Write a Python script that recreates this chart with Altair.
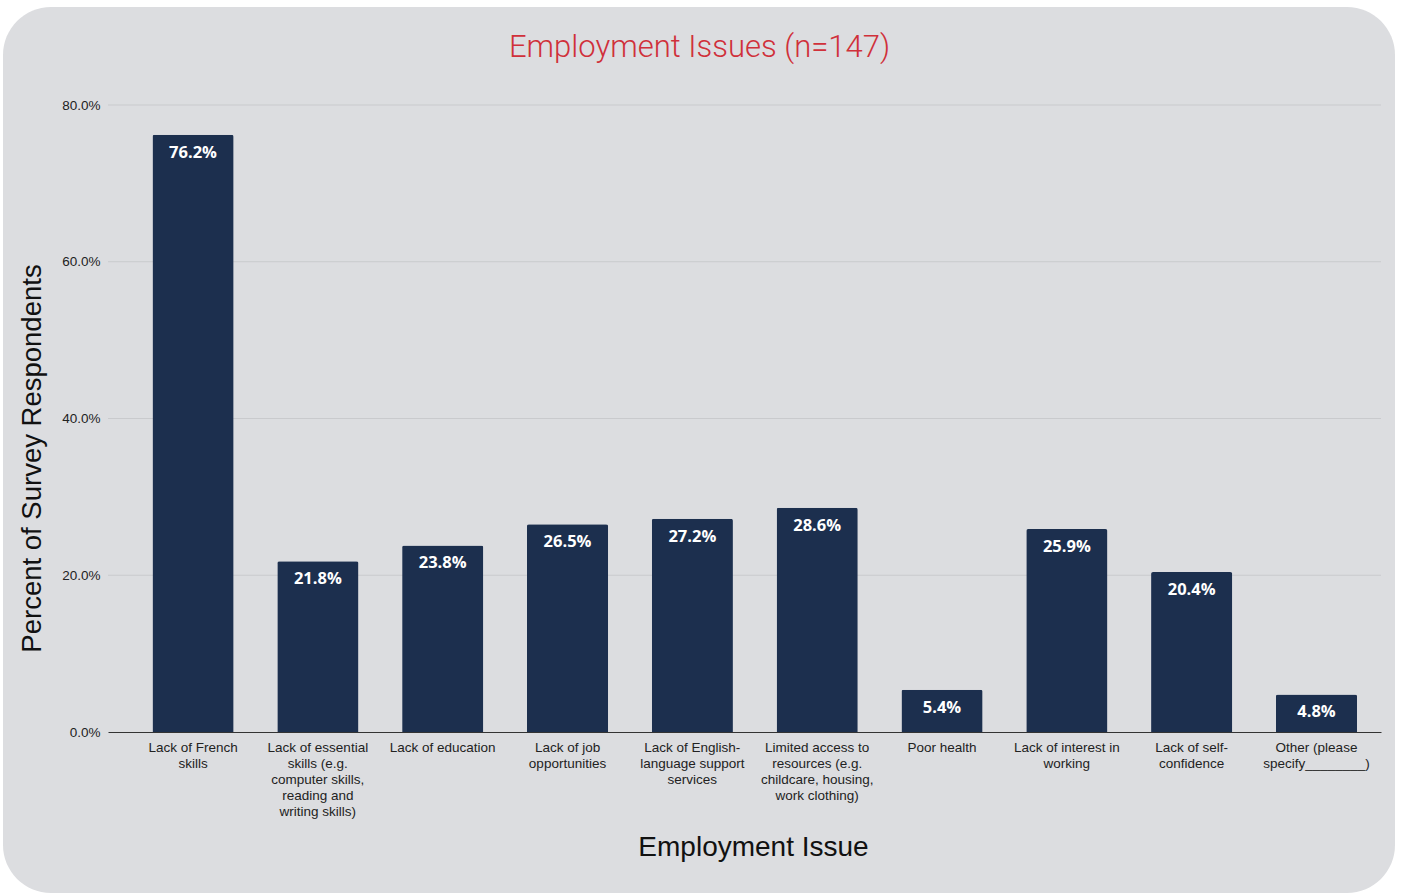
import altair as alt
import pandas as pd

categories = [
    "Lack of French\nskills",
    "Lack of essential\nskills (e.g.\ncomputer skills,\nreading and\nwriting skills)",
    "Lack of education",
    "Lack of job\nopportunities",
    "Lack of English-\nlanguage support\nservices",
    "Limited access to\nresources (e.g.\nchildcare, housing,\nwork clothing)",
    "Poor health",
    "Lack of interest in\nworking",
    "Lack of self-\nconfidence",
    "Other (please\nspecify________)",
]
values = [0.762, 0.218, 0.238, 0.265, 0.272, 0.286, 0.054, 0.259, 0.204, 0.048]
y_ticks = [0.0, 0.2, 0.4, 0.6, 0.8]
grid_ticks = [0.2, 0.4, 0.6, 0.8]

df = pd.DataFrame({"issue": categories, "pct": values})
grid_df = pd.DataFrame({"pct": grid_ticks})

W, H = 1273, 627
PL, PT, PR, PB = 108, 105, 21, 162

bg = alt.Chart(pd.DataFrame({"a": [0]})).mark_rect(
    color="#dcdde0", cornerRadius=48
).encode(
    x=alt.value(3 - PL), x2=alt.value(1395 - PL),
    y=alt.value(7 - PT), y2=alt.value(893 - PT),
)

yscale = alt.Scale(domain=[0, 0.8], nice=False)
yaxis = alt.Axis(
    title="Percent of Survey Respondents", format=".1%",
    values=y_ticks, grid=False,
    labelFont="Liberation Sans", labelFontSize=13.5, labelColor="#222222",
    labelPadding=8, ticks=False, domain=False,
    titleFont="Liberation Sans", titleFontSize=27.5, titleFontWeight="normal",
    titleColor="#111111", titleAngle=-90, titleX=-76, titleY=353,
    titleBaseline="middle", titleAlign="center", zindex=1,
)

grid = alt.Chart(grid_df).mark_rule(color="#c9cacd", strokeWidth=1).encode(
    y=alt.Y("pct:Q", scale=yscale, axis=yaxis),
    x=alt.value(0), x2=alt.value(W),
)

xenc = alt.X(
    "issue:N", sort=categories,
    scale=alt.Scale(paddingInner=0.35, paddingOuter=0.274, align=0.65),
    axis=alt.Axis(
        title="Employment Issue", labelAngle=0,
        labelExpr="split(datum.value, '\\n')",
        labelFont="Liberation Sans", labelFontSize=13.5, labelColor="#222222",
        labelLineHeight=16, labelPadding=8, labelBaseline="top",
        ticks=False, domainColor="#333333", domainWidth=1.2,
        titleFont="Liberation Sans", titleFontSize=28, titleFontWeight="normal",
        titleColor="#111111", titleX=645, titleY=115, titleBaseline="middle",
        labelLimit=200, zindex=1,
    ),
)

bars = alt.Chart(df).mark_bar(
    color="#1c2f4e", cornerRadiusTopLeft=2, cornerRadiusTopRight=2
).encode(x=xenc, y=alt.Y("pct:Q", scale=yscale, axis=yaxis))

labels = alt.Chart(df).mark_text(
    color="white", font="Open Sans", fontWeight="bold", fontSize=16.5,
    baseline="middle", dy=18
).encode(
    x=alt.X("issue:N", sort=categories),
    y=alt.Y("pct:Q", scale=yscale, axis=yaxis),
    text=alt.Text("pct:Q", format=".1%"),
)

chart = alt.layer(bg, grid, bars, labels).properties(
    width=W, height=H,
    autosize=alt.AutoSizeParams(type="none"),
    padding={"left": PL, "top": PT, "right": PR, "bottom": PB},
    background="white",
    title=alt.TitleParams(
        "Employment Issues (n=147)", font="Roboto", fontWeight=300,
        fontSize=31, color="#d0303a", anchor="middle", dx=-45, offset=0, dy=57,
    ),
).configure_view(stroke=None)

chart.save("out.html", embed_options={"renderer": "svg", "actions": False})
